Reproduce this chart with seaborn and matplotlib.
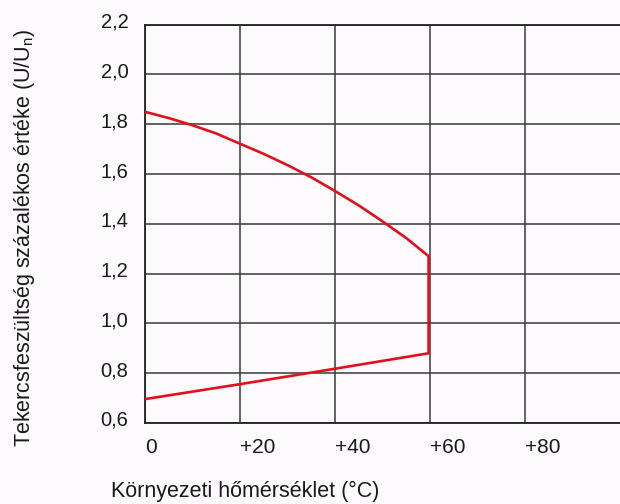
import numpy as np
import pandas as pd
import seaborn as sns
import matplotlib.pyplot as plt
from matplotlib.transforms import ScaledTranslation

# felső ág (bekapcsolási feszültség) és alsó ág (elengedési feszültség)
upper_temp = [0, 5, 10, 15, 20, 25, 30, 35, 40, 45, 50, 55, 59.7]
upper_ratio = [1.850, 1.825, 1.796, 1.763, 1.722, 1.681, 1.636, 1.587, 1.532,
               1.474, 1.410, 1.343, 1.270]
lower_temp = [59.7, 40, 20, 0]
lower_ratio = [0.88, 0.818, 0.756, 0.696]

x_ticks = [0, 20, 40, 60, 80]
x_labels = ["0", "+20", "+40", "+60", "+80"]
y_ticks = [0.6, 0.8, 1.0, 1.2, 1.4, 1.6, 1.8, 2.0, 2.2]
y_labels = ["0,6", "0,8", "1,0", "1,2", "1,4", "1,6", "1,8", "2,0", "2,2"]

df = pd.DataFrame({
    "temp": upper_temp + lower_temp,
    "ratio": upper_ratio + lower_ratio,
})

sns.set_style("white")
plt.rcParams["font.family"] = ["Liberation Sans", "DejaVu Sans"]
bg = "#fdfafd"

fig = plt.figure(figsize=(6.2, 5.04), dpi=100, facecolor=bg)
ax = fig.add_axes([145 / 620, 1 - 423 / 504, 1 - 145 / 620, (423 - 24.7) / 504])
ax.set_facecolor(bg)

sns.lineplot(data=df, x="temp", y="ratio", sort=False, estimator=None,
             color="#e3101b", linewidth=1.9, ax=ax, zorder=3)

ax.set_xlim(0, 100)
ax.set_ylim(0.6, 2.2)
ax.set_xticks(x_ticks)
ax.set_xticklabels(x_labels, fontsize=15, color="#1a1a1a")
ax.set_yticks(y_ticks)
ax.set_yticklabels(y_labels, fontsize=14.5, color="#1a1a1a")
ax.tick_params(axis="both", length=0)
ax.tick_params(axis="x", pad=11)
ax.tick_params(axis="y", pad=12)
for lab in ax.get_xticklabels():
    lab.set_ha("left")
for lab in ax.get_yticklabels():
    lab.set_va("baseline")
    lab.set_transform(lab.get_transform() + ScaledTranslation(0, -3 / 100, fig.dpi_scale_trans))

ax.grid(True, color="#3a3a3a", linewidth=1.1)
for side in ["top", "left", "bottom"]:
    ax.spines[side].set_color("#222222")
    ax.spines[side].set_linewidth(1.3)
ax.spines["right"].set_visible(False)
ax.set_xlabel("")
ax.set_ylabel("")

fig.text(25 / 620, 1 - 238 / 504, "Tekercsfeszültség százalékos értéke (U/U$_\\mathregular{n}$)",
         rotation=90, ha="center", va="center", fontsize=15.5, color="#1a1a1a")
fig.text(245 / 620, 1 - 491 / 504, "Környezeti hőmérséklet (°C)",
         ha="center", va="center", fontsize=15.5, color="#1a1a1a")

fig.savefig("out.png", dpi=100, facecolor=bg)
